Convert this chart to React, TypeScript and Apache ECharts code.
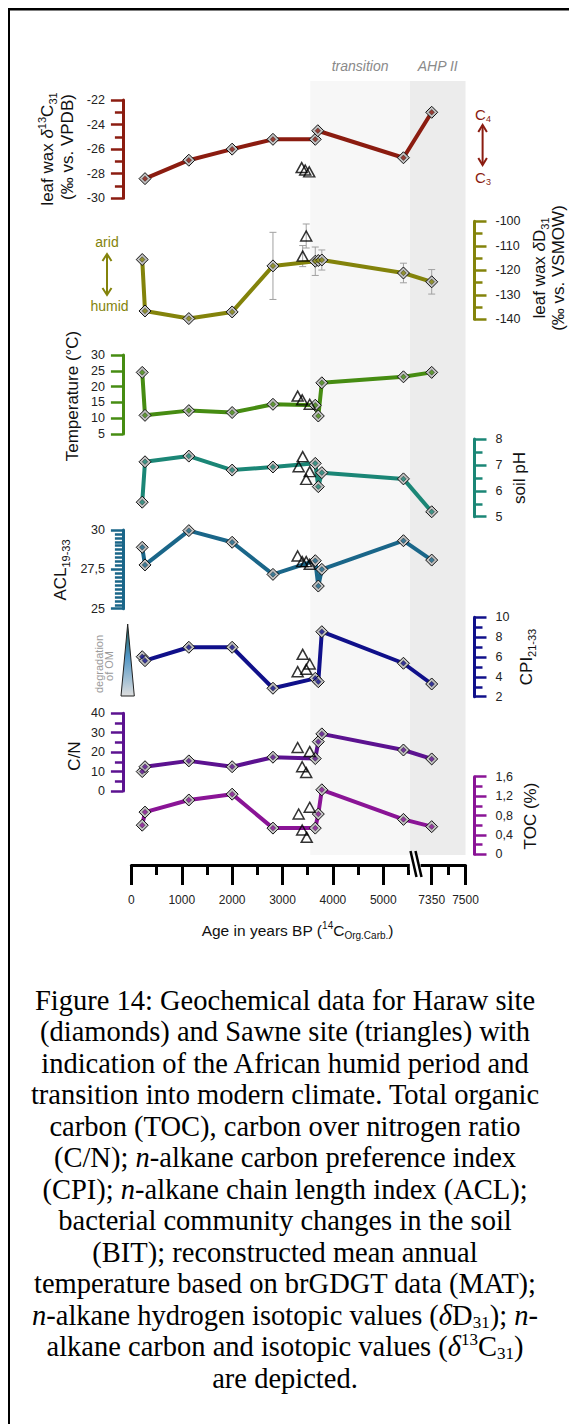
import React, { useEffect, useRef } from "react";
import * as echarts from "echarts";

// ---------------- data ----------------
const HARAW_AGE = [215, 270, 1140, 2000, 2810, 3650, 3710, 3780, 5400, 7350];

const D13C_AGE = [270, 1140, 2000, 2810, 3650, 3700, 5400, 7350];
const D13C = [-28.4, -26.9, -26.0, -25.2, -25.2, -24.5, -26.7, -23.0];
const D13C_S_AGE = [3380, 3450, 3530];
const D13C_S = [-27.5, -27.7, -27.85];

const DD = [-115.6, -136.6, -139.7, -137.0, -118.2, -116.3, -116.0, -115.8, -121.1, -124.7];
const DD_ERR = [0, 0, 0, 0, 13.7, 5.8, 0, 4.1, 4.0, 5.0];
const DD_S_AGE = [3400, 3470];
const DD_S = [-114.2, -106.0];
const DD_S_ERR = [4.3, 4.9];

const TEMP = [24.5, 10.9, 12.4, 11.8, 14.4, 14.1, 10.7, 21.2, 23.1, 24.5];
const TEMP_S_AGE = [3300, 3390, 3540];
const TEMP_S = [17.0, 15.8, 14.4];

const PH = [5.56, 7.12, 7.34, 6.8, 6.92, 7.06, 6.16, 6.7, 6.46, 5.19];
const PH_S_AGE = [3400, 3320, 3540, 3470];
const PH_S = [7.32, 6.93, 6.74, 6.44];

const ACL = [28.9, 27.78, 29.96, 29.22, 27.18, 28.05, 26.44, 27.5, 29.32, 28.09];
const ACL_S_AGE = [3300, 3390, 3470, 3540];
const ACL_S = [28.35, 27.99, 27.99, 27.82];

const CPI = [6.03, 5.63, 6.98, 6.98, 2.85, 3.85, 3.51, 8.55, 5.37, 3.28];
const CPI_S_AGE = [3400, 3540, 3300, 3470];
const CPI_S = [6.27, 5.3, 4.52, 4.76];

const CN = [10.0, 12.5, 15.5, 12.5, 17.4, 16.7, 25.4, 29.4, 21.1, 16.5];
const CN_S_AGE = [3300, 3540, 3390, 3470];
const CN_S = [22.4, 20.3, 12.5, 9.5];

const TOC = [0.6, 0.87, 1.12, 1.24, 0.54, 0.54, 0.83, 1.33, 0.72, 0.57];
const TOC_S_AGE = [3540, 3320, 3390, 3480];
const TOC_S = [0.97, 0.83, 0.5, 0.35];

const X_MAJOR = [0, 1000, 2000, 3000, 4000, 5000, 7350, 7500];
const X_MINOR = [500, 1500, 2500, 3500, 4500, 5500, 7425];
const PERIOD_NAMES = ["transition", "AHP II"];
const PERIOD_FROM = [3550, 5530];
const PERIOD_TO = [5530, 7500];

const CAPTION = [
  "Figure 14: Geochemical data for Haraw site",
  "(diamonds) and Sawne site (triangles) with",
  "indication of the African humid period and",
  "transition into modern climate. Total organic",
  "carbon (TOC), carbon over nitrogen ratio",
  "(C/N); {i|n}-alkane carbon preference index",
  "(CPI); {i|n}-alkane chain length index (ACL);",
  "bacterial community changes in the soil",
  "(BIT); reconstructed mean annual",
  "temperature based on brGDGT data (MAT);",
  "{i|n}-alkane hydrogen isotopic values ({i|δ}D{sub|31}); {i|n}-",
  "alkane carbon and isotopic values ({i|δ}{sup|13}C{sub|31})",
  "are depicted.",
];

// ---------------- broken age axis ----------------
// ages up to the break are shown 1:1; the post-break segment (7350-7500) is stretched
const BREAK_AGE = 6000;
const POST_AGE0 = 7350;
const POST_DISP0 = 5961;
const POST_STRETCH = 4.473;
const toDisp = (a: number) => (a <= BREAK_AGE ? a : POST_DISP0 + (a - POST_AGE0) * POST_STRETCH);
const DISP_MAX = toDisp(7500);

const SANS = "Liberation Sans, Arial, Helvetica, sans-serif";
const SERIF = "Liberation Serif, Times New Roman, serif";
const GRID_LEFT = 131.4;
const GRID_RIGHT = 103.5;
const CAP_FONT = 28.5;

const comma = (v: number) => String(+v.toFixed(2)).replace(".", ",");

const PANELS = [
  { color: "#8b1c10", ages: D13C_AGE, vals: D13C, sAges: D13C_S_AGE, sVals: D13C_S, min: -30, max: -22, interval: 2, minor: 2, side: "left", top: 100, height: 98.3 },
  { color: "#83830b", ages: HARAW_AGE, vals: DD, err: DD_ERR, sAges: DD_S_AGE, sVals: DD_S, sErr: DD_S_ERR, min: -140, max: -100, interval: 10, minor: 2, side: "right", top: 221.3, height: 98 },
  { color: "#468c12", ages: HARAW_AGE, vals: TEMP, sAges: TEMP_S_AGE, sVals: TEMP_S, min: 5, max: 30, interval: 5, minor: 0, side: "left", top: 355, height: 79 },
  { color: "#1b8676", ages: HARAW_AGE, vals: PH, sAges: PH_S_AGE, sVals: PH_S, min: 5, max: 8, interval: 1, minor: 2, side: "right", top: 439, height: 77.7 },
  { color: "#1a6689", ages: HARAW_AGE, vals: ACL, sAges: ACL_S_AGE, sVals: ACL_S, min: 25, max: 30, interval: 2.5, minor: 10, side: "left", top: 530, height: 78.7, fmt: comma },
  { color: "#10108a", ages: HARAW_AGE, vals: CPI, sAges: CPI_S_AGE, sVals: CPI_S, min: 2, max: 10, interval: 2, minor: 2, side: "right", top: 617.3, height: 79.4 },
  { color: "#5c1290", ages: HARAW_AGE, vals: CN, sAges: CN_S_AGE, sVals: CN_S, min: 0, max: 40, interval: 10, minor: 2, side: "left", top: 713.3, height: 77.7 },
  { color: "#8a1496", ages: HARAW_AGE, vals: TOC, sAges: TOC_S_AGE, sVals: TOC_S, min: 0, max: 1.6, interval: 0.4, minor: 2, side: "right", top: 776.7, height: 77.6, fmt: comma },
];

const SHADE_COLORS = ["#f7f7f7", "#ececec"];

function errorBars(xIdx: number, ages: number[], vals: number[], errs: number[]) {
  const data = ages.map((a, i) => [toDisp(a), vals[i], errs[i]]).filter((d) => d[2] > 0);
  return {
    type: "custom",
    xAxisIndex: xIdx,
    yAxisIndex: xIdx,
    z: 2,
    silent: true,
    data,
    renderItem: (params: any, api: any) => {
      const x = api.value(0), y = api.value(1), e = api.value(2);
      const t = api.coord([x, y + e]);
      const b = api.coord([x, y - e]);
      const st = { stroke: "#a0a0a0", lineWidth: 1 };
      const w = 3.5;
      return {
        type: "group",
        children: [
          { type: "line", shape: { x1: t[0], y1: t[1], x2: b[0], y2: b[1] }, style: st },
          { type: "line", shape: { x1: t[0] - w, y1: t[1], x2: t[0] + w, y2: t[1] }, style: st },
          { type: "line", shape: { x1: b[0] - w, y1: b[1], x2: b[0] + w, y2: b[1] }, style: st },
        ],
      };
    },
  };
}

function vtitle(x: number, y: number, text: string, color = "#111", fontSize = 17) {
  return {
    type: "text",
    x,
    y,
    rotation: Math.PI / 2,
    style: {
      text,
      align: "center",
      verticalAlign: "middle",
      fontSize,
      fontFamily: SANS,
      fill: color,
      lineHeight: 22,
      rich: {
        i: { fontStyle: "italic", fontSize, fontFamily: SANS, fill: color },
        sup: { fontSize: 11, fontFamily: SANS, verticalAlign: "top", lineHeight: 13, fill: color },
        sub: { fontSize: 11, fontFamily: SANS, verticalAlign: "bottom", lineHeight: 13, fill: color },
      },
    },
  };
}

function buildOption() {
  const grids: any[] = [];
  const xAxes: any[] = [];
  const yAxes: any[] = [];
  const series: any[] = [];

  // grid 0: period shading
  grids.push({ left: GRID_LEFT, right: GRID_RIGHT, top: 81, height: 774, containLabel: false, outerBoundsMode: "none" });
  xAxes.push({ type: "value", gridIndex: 0, min: 0, max: DISP_MAX, show: false });
  yAxes.push({ type: "value", gridIndex: 0, min: 0, max: 1, show: false });
  series.push({
    type: "custom",
    xAxisIndex: 0,
    yAxisIndex: 0,
    z: 0,
    silent: true,
    data: PERIOD_NAMES.map((_, i) => [toDisp(PERIOD_FROM[i]), toDisp(PERIOD_TO[i]), i]),
    renderItem: (params: any, api: any) => {
      const a = api.coord([api.value(0), 0]);
      const b = api.coord([api.value(1), 0]);
      const cs = params.coordSys;
      const idx = api.value(2);
      return {
        type: "group",
        children: [
          { type: "rect", shape: { x: a[0], y: cs.y, width: b[0] - a[0], height: cs.height }, style: { fill: SHADE_COLORS[idx] } },
          {
            type: "text",
            x: (a[0] + b[0]) / 2,
            y: cs.y - 15,
            style: { text: PERIOD_NAMES[idx], align: "center", verticalAlign: "middle", fill: "#8a8a8a", fontSize: 14, fontStyle: "italic", fontFamily: SANS },
          },
        ],
      };
    },
  });

  PANELS.forEach((p: any, k) => {
    const gi = k + 1;
    grids.push({ left: GRID_LEFT, right: GRID_RIGHT, top: p.top, height: p.height, containLabel: false, outerBoundsMode: "none" });
    xAxes.push({ type: "value", gridIndex: gi, min: 0, max: DISP_MAX, show: false });
    yAxes.push({
      type: "value",
      gridIndex: gi,
      min: p.min,
      max: p.max,
      interval: p.interval,
      position: p.side,
      offset: p.side === "left" ? 8.5 : 9,
      axisLine: { show: true, onZero: false, lineStyle: { color: p.color, width: 3 } },
      axisTick: { show: true, length: 12, lineStyle: { color: p.color, width: 2.5 } },
      minorTick: { show: p.minor > 1, splitNumber: p.minor || 2, length: 8, lineStyle: { color: p.color, width: 2.5 } },
      splitLine: { show: false },
      minorSplitLine: { show: false },
      axisLabel: {
        color: "#222",
        fontSize: 12.5,
        fontFamily: SANS,
        margin: p.side === "left" ? 18 : 21,
        formatter: p.fmt ? p.fmt : (v: number) => String(+v.toFixed(2)),
      },
    });
    const hData = p.ages.map((a: number, i: number) => [toDisp(a), p.vals[i]]);
    if (p.err) series.push(errorBars(gi, p.ages, p.vals, p.err));
    if (p.sErr) series.push(errorBars(gi, p.sAges, p.sVals, p.sErr));
    series.push({
      type: "line",
      xAxisIndex: gi,
      yAxisIndex: gi,
      data: hData,
      clip: false,
      silent: true,
      z: 3,
      lineStyle: { color: p.color, width: 4 },
      symbol: "diamond",
      symbolSize: 12,
      showSymbol: true,
      itemStyle: { color: "#c2c2c2", borderColor: "#111", borderWidth: 1 },
    });
    series.push({
      type: "scatter",
      xAxisIndex: gi,
      yAxisIndex: gi,
      data: hData,
      clip: false,
      silent: true,
      z: 4,
      symbol: "diamond",
      symbolSize: 5.5,
      itemStyle: { color: p.color, borderColor: "#111", borderWidth: 0.5 },
    });
    series.push({
      type: "scatter",
      xAxisIndex: gi,
      yAxisIndex: gi,
      data: p.sAges.map((a: number, i: number) => [toDisp(a), p.sVals[i]]),
      clip: false,
      silent: true,
      z: 5,
      symbol: "triangle",
      symbolSize: [11, 10],
      itemStyle: { color: "rgba(255,255,255,0)", borderColor: "#000", borderWidth: 1.5 },
    });
  });

  // age axis grid
  const ag = PANELS.length + 1;
  grids.push({ left: GRID_LEFT, right: GRID_RIGHT, top: 863, height: 2, containLabel: false, outerBoundsMode: "none" });
  const majorDisp = X_MAJOR.map(toDisp);
  const minorDisp = X_MINOR.map(toDisp);
  xAxes.push({
    type: "value",
    gridIndex: ag,
    min: 0,
    max: DISP_MAX,
    position: "bottom",
    axisLine: { show: true, onZero: false, lineStyle: { color: "#000", width: 3 } },
    axisTick: { show: true, customValues: majorDisp, length: 20, lineStyle: { color: "#000", width: 3 } },
    axisLabel: {
      show: true,
      customValues: majorDisp,
      margin: 29,
      fontSize: 12,
      color: "#222",
      fontFamily: SANS,
      formatter: (v: number) => {
        const i = majorDisp.findIndex((d) => Math.abs(d - v) < 1);
        return i >= 0 ? String(X_MAJOR[i]) : "";
      },
    },
    splitLine: { show: false },
  });
  xAxes.push({
    type: "value",
    gridIndex: ag,
    min: 0,
    max: DISP_MAX,
    position: "bottom",
    axisLine: { show: false },
    axisTick: { show: true, customValues: minorDisp, length: 10, lineStyle: { color: "#000", width: 3 } },
    axisLabel: { show: false },
    splitLine: { show: false },
  });
  yAxes.push({ type: "value", gridIndex: ag, min: 0, max: 1, show: false });

  const graphics: any[] = [
    // frame
    { type: "line", shape: { x1: 8, y1: 9.2, x2: 569, y2: 9.2 }, style: { stroke: "#000", lineWidth: 2.5 } },
    { type: "line", shape: { x1: 9, y1: 8, x2: 9, y2: 1424 }, style: { stroke: "#000", lineWidth: 2 } },
    // axis break
    { type: "rect", z: 100, shape: { x: 409.8, y: 860, width: 10.8, height: 10 }, style: { fill: "#fff" } },
    { type: "line", z: 101, shape: { x1: 410.5, y1: 851, x2: 416.5, y2: 877 }, style: { stroke: "#000", lineWidth: 2.5 } },
    { type: "line", z: 101, shape: { x1: 415.5, y1: 851, x2: 421.5, y2: 877 }, style: { stroke: "#000", lineWidth: 2.5 } },
    // C4 / C3
    { type: "text", x: 483, y: 114, style: { text: "C{s|4}", align: "center", verticalAlign: "middle", fontSize: 15, fontFamily: SANS, fill: "#8b1c10", lineHeight: 18, rich: { s: { fontSize: 9, verticalAlign: "bottom", lineHeight: 10, fontFamily: SANS, fill: "#8b1c10" } } } },
    { type: "text", x: 483, y: 177, style: { text: "C{s|3}", align: "center", verticalAlign: "middle", fontSize: 15, fontFamily: SANS, fill: "#8b1c10", lineHeight: 18, rich: { s: { fontSize: 9, verticalAlign: "bottom", lineHeight: 10, fontFamily: SANS, fill: "#8b1c10" } } } },
    { type: "line", shape: { x1: 482.6, y1: 125, x2: 482.6, y2: 165 }, style: { stroke: "#8b1c10", lineWidth: 2 } },
    { type: "polyline", shape: { points: [[478.3, 132], [482.6, 125], [486.9, 132]] }, style: { stroke: "#8b1c10", lineWidth: 2, fill: null } },
    { type: "polyline", shape: { points: [[478.3, 158], [482.6, 165], [486.9, 158]] }, style: { stroke: "#8b1c10", lineWidth: 2, fill: null } },
    // arid / humid
    { type: "text", x: 107, y: 242, style: { text: "arid", align: "center", verticalAlign: "middle", fontSize: 14, fontFamily: SANS, fill: "#83830b" } },
    { type: "text", x: 109.5, y: 306, style: { text: "humid", align: "center", verticalAlign: "middle", fontSize: 14, fontFamily: SANS, fill: "#83830b" } },
    { type: "line", shape: { x1: 107, y1: 254, x2: 107, y2: 295 }, style: { stroke: "#83830b", lineWidth: 2 } },
    { type: "polyline", shape: { points: [[102.5, 261], [107, 254], [111.5, 261]] }, style: { stroke: "#83830b", lineWidth: 2, fill: null } },
    { type: "polyline", shape: { points: [[102.5, 288], [107, 295], [111.5, 288]] }, style: { stroke: "#83830b", lineWidth: 2, fill: null } },
    // degradation of OM
    {
      type: "polygon",
      shape: { points: [[127.7, 624], [121, 696], [134.3, 696]] },
      style: {
        fill: new echarts.graphic.LinearGradient(0, 0, 0, 1, [
          { offset: 0, color: "#1d5a4c" },
          { offset: 0.45, color: "#5196c6" },
          { offset: 1, color: "#dedede" },
        ]),
        stroke: "#222",
        lineWidth: 1,
      },
    },
    vtitle(99, 664, "degradation", "#9a9a9a", 11),
    vtitle(108.5, 666, "of OM", "#9a9a9a", 11),
    // axis titles
    vtitle(47, 149, "leaf wax {i|δ}{sup|13}C{sub|31}"),
    vtitle(67, 147, "(‰ vs. VPDB)"),
    vtitle(539, 268, "leaf wax {i|δ}D{sub|31}"),
    vtitle(558, 268, "(‰ vs. VSMOW)"),
    vtitle(72.6, 396, "Temperature (°C)"),
    vtitle(519, 478, "soil pH"),
    vtitle(60, 570, "ACL{sub|19-33}"),
    vtitle(526, 657, "CPI{sub|21-33}"),
    vtitle(74.4, 756, "C/N"),
    vtitle(530, 816, "TOC (%)"),
    {
      type: "text",
      x: 297.5,
      y: 930,
      style: {
        text: "Age in years BP ({sup|14}C{sub|Org.Carb.})",
        align: "center",
        verticalAlign: "middle",
        fontSize: 15.5,
        fontFamily: SANS,
        fill: "#111",
        lineHeight: 20,
        rich: {
          sup: { fontSize: 10, verticalAlign: "top", lineHeight: 12, fontFamily: SANS, fill: "#111" },
          sub: { fontSize: 10, verticalAlign: "bottom", lineHeight: 12, fontFamily: SANS, fill: "#111" },
        },
      },
    },
  ];

  CAPTION.forEach((line, i) => {
    graphics.push({
      type: "text",
      x: 285,
      y: 1000 + i * 31.5,
      style: {
        text: line,
        align: "center",
        verticalAlign: "middle",
        fontSize: CAP_FONT,
        fontFamily: SERIF,
        fill: "#000",
        lineHeight: 31,
        rich: {
          i: { fontStyle: "italic", fontSize: CAP_FONT, fontFamily: SERIF, fill: "#000" },
          sup: { fontSize: 17, verticalAlign: "top", lineHeight: 19, fontFamily: SERIF, fill: "#000" },
          sub: { fontSize: 17, verticalAlign: "bottom", lineHeight: 19, fontFamily: SERIF, fill: "#000" },
        },
      },
    });
  });

  return {
    animation: false,
    backgroundColor: "#fff",
    textStyle: { fontFamily: SANS },
    grid: grids,
    xAxis: xAxes,
    yAxis: yAxes,
    series,
    graphic: graphics,
  };
}

export default function App() {
  const ref = useRef<HTMLDivElement>(null);
  useEffect(() => {
    document.body.style.margin = "0";
    const chart = echarts.init(ref.current!, null, { renderer: "svg" });
    chart.setOption(buildOption() as any);
    return () => chart.dispose();
  }, []);
  return <div ref={ref} style={{ width: 569, height: 1424 }} />;
}
